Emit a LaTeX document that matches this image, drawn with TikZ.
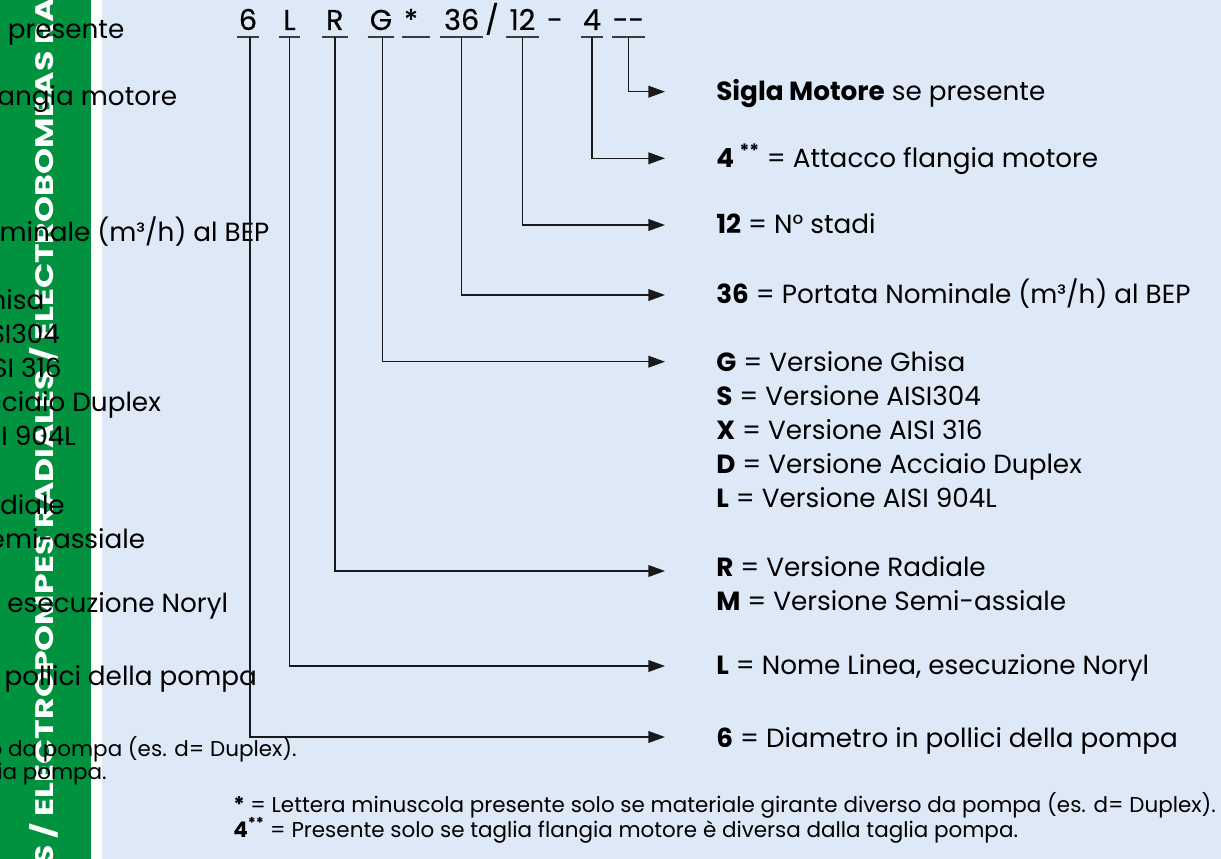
\documentclass[tikz,border=0pt]{standalone}
\usepackage{fontspec}
\setmainfont{Poppins}
\newfontfamily\codefont[FakeBold=0.5]{Poppins}
\usetikzlibrary{arrows.meta}
\definecolor{bgblue}{RGB}{222,233,248}
\definecolor{stripgreen}{RGB}{0,146,63}
\definecolor{lncol}{RGB}{25,25,25}
\tikzset{
  lab/.style={anchor=base west, inner sep=0pt, font=\fontsize{19.7}{25.5}\selectfont, align=left, text=black},
  fn/.style={anchor=base west, inner sep=0pt, font=\fontsize{16.1}{19}\selectfont, text=black},
  codech/.style={anchor=base, inner xsep=0pt, inner ysep=0pt, text depth=5pt, font=\codefont\fontsize{21.5}{26}\selectfont, minimum width=#1},
  codeplain/.style={anchor=base, inner sep=0pt, font=\codefont\fontsize{21.5}{26}\selectfont},
  uline/.style={draw=lncol!85, line width=1.1pt},
  conn/.style={draw=lncol, line width=1.1pt, -{Triangle[length=12.5pt,width=8.8pt]}},
  striptext/.style={rotate=90, anchor=base west, inner sep=0pt, text=white, font=\bfseries\fontsize{19}{19}\selectfont},
}
\newcommand\pumplabels{%
  \node[lab] (tSig) at (716,100.7) {\textbf{Sigla Motore} se presente};
  \node[lab] (t4) at (716,167.3) {\textbf{4 \textsuperscript{**}} = Attacco flangia motore};
  \node[lab] (t12) at (716,234) {\textbf{12} = N° stadi};
  \node[lab] (t36) at (716,304) {\textbf{36} = Portata Nominale (m³/h) al BEP};
  \node[lab] (tG) at (716,507) {\textbf{G} = Versione Ghisa\\ \textbf{S} = Versione AISI304\\ \textbf{X} = Versione AISI 316\\ \textbf{D} = Versione Acciaio Duplex\\ \textbf{L} = Versione AISI 904L};
  \node[lab] (tR) at (716,610) {\textbf{R} = Versione Radiale\\ \textbf{M} = Versione Semi-assiale};
  \node[lab] (tL) at (716,674) {\textbf{L} = Nome Linea, esecuzione Noryl};
  \node[lab] (t6) at (716,747) {\textbf{6} = Diametro in pollici della pompa};
}
\begin{document}
\begin{tikzpicture}[x=0.75pt,y=-0.75pt]
\useasboundingbox (0,0) rectangle (1221,859);
\clip (0,0) rectangle (1221,859);
\fill[bgblue] (102,0) rectangle (1221,859);
\fill[white] (91,0) rectangle (102,859);
\fill[stripgreen] (0,0) rectangle (91,859);
\node[striptext] (strip) at (53,866) {\scalebox{1.31}[1]{S / ELECTROPOMPES RADIALES / ELECTROBOMBAS RADIALES}};
% ghost copy of the labels
\begin{scope}[shift={(-921,-62)}, name prefix=g-]
  \pumplabels
\end{scope}
\node[fn, anchor=base east] (gf1) at (297,756) {\textbf{*} = Lettera minuscola presente solo se materiale girante diverso da pompa (es. d= Duplex).};
\node[fn, anchor=base east] (gf2) at (107,779) {\textbf{4\textsuperscript{**}} = Presente solo se taglia flangia motore è diversa dalla taglia pompa.};
% code
\node[codech=15.5pt] (c6) at (248,30) {6};
\node[codech=15.5pt] (cL) at (289.5,30) {L};
\node[codech=19.5pt] (cR) at (334.8,30) {R};
\node[codech=19.2pt] (cG) at (381,30) {G};
\node[codeplain] (cStar) at (411,30) {*};
\node[codech=20pt] (cBlank) at (416,30) {};
\node[codech=31.7pt] (c36) at (461.7,30) {36};
\node[codeplain] (cSlash) at (492,30) {/};
\node[codech=25pt] (c12) at (522.5,30) {12};
\node[codeplain] (cDash) at (555,30) {-};
\node[codech=15.5pt] (c4) at (592,30) {4};
\node[codech=18pt] (cDD) at (628.5,30) {-{}-};
\foreach \n in {c6,cL,cR,cG,cBlank,c36,c12,c4,cDD}
  \draw[uline] (\n.south west) -- (\n.south east);
% labels
\pumplabels
\node[fn] (f1) at (233,812) {\textbf{*} = Lettera minuscola presente solo se materiale girante diverso da pompa (es. d= Duplex).};
\node[fn] (f2) at (233,837) {\textbf{4\textsuperscript{**}} = Presente solo se taglia flangia motore è diversa dalla taglia pompa.};
% arrow ends
\coordinate (eSig) at (665,91.7);
\coordinate (e4) at (665,158.3);
\coordinate (e12) at (665,225);
\coordinate (e36) at (665,295);
\coordinate (eG) at (665,361.7);
\coordinate (eR) at (665,571);
\coordinate (eL) at (665,666);
\coordinate (e6) at (665,737);
\draw[conn] (cDD.south) |- (eSig);
\draw[conn] (c4.south) |- (e4);
\draw[conn] (c12.south) |- (e12);
\draw[conn] (c36.south) |- (e36);
\draw[conn] ([xshift=1pt]cG.south) |- (eG);
\draw[conn] (cR.south) |- (eR);
\draw[conn] (cL.south) |- (eL);
\draw[conn] ([xshift=1.5pt]c6.south) |- (e6);
\end{tikzpicture}
\end{document}
